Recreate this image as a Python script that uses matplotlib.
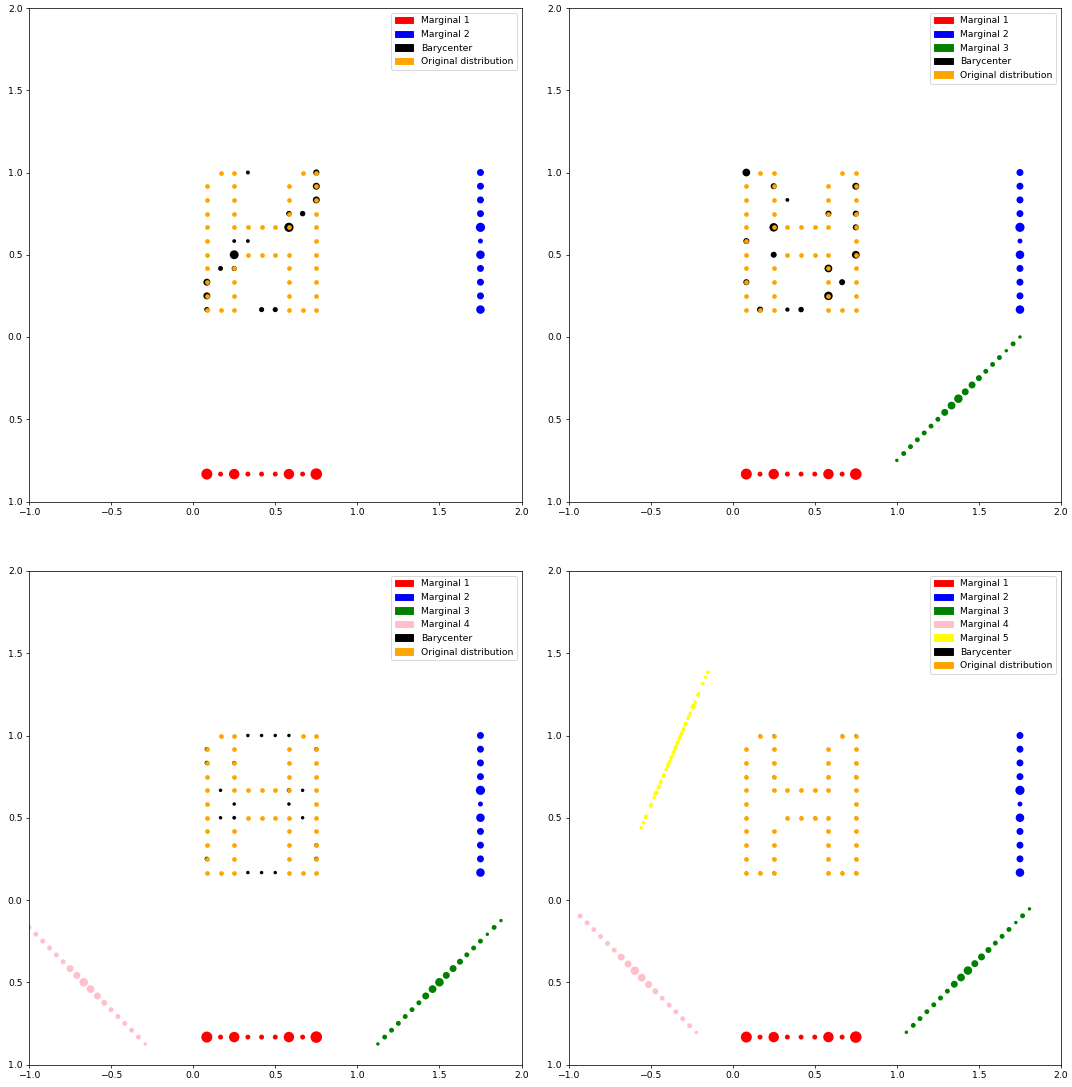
import matplotlib
matplotlib.use("Agg")
import matplotlib.pyplot as plt
import matplotlib.patches as mpatches
from matplotlib.ticker import FuncFormatter

# ---------------- data ----------------
# original distribution (orange grid points)
orig_x = [0.1667, 0.25, 0.6667, 0.75,
          0.0833, 0.25, 0.5833, 0.75,
          0.0833, 0.25, 0.5833, 0.75,
          0.0833, 0.25, 0.5833, 0.75,
          0.0833, 0.25, 0.3333, 0.4167, 0.5, 0.5833, 0.75,
          0.0833, 0.75,
          0.0833, 0.3333, 0.4167, 0.5, 0.5833, 0.75,
          0.0833, 0.25, 0.5833, 0.75,
          0.0833, 0.25, 0.5833, 0.75,
          0.0833, 0.25, 0.5833, 0.75,
          0.0833, 0.1667, 0.25, 0.5833, 0.6667, 0.75]
orig_y = [1.0] * 4 + [0.9167] * 4 + [0.8333] * 4 + [0.75] * 4 + [0.6667] * 7 \
    + [0.5833] * 2 + [0.5] * 6 + [0.4167] * 4 + [0.3333] * 4 + [0.25] * 4 + [0.1667] * 6

# marginal 1 (x projection)
m1_x = [0.0833, 0.1667, 0.25, 0.3333, 0.4167, 0.5, 0.5833, 0.6667, 0.75]
m1_y = [-0.8333] * 9
m1_w = [10, 2, 9, 2, 2, 2, 9, 2, 11]

# marginal 2 (y projection)
m2_x = [1.75] * 11
m2_y = [1.0, 0.9167, 0.8333, 0.75, 0.6667, 0.5833, 0.5, 0.4167, 0.3333, 0.25, 0.1667]
m2_w = [4, 4, 4, 4, 7, 2, 6, 4, 4, 4, 6]

# marginal 3 (diagonal projection)
m3_w = [1, 2, 2, 2, 2, 2, 2, 4, 5, 6, 4, 4, 3, 2, 2, 2, 1, 2, 1]
m3_x_tr = [1.0, 1.0417, 1.0833, 1.125, 1.1667, 1.2083, 1.25, 1.2917, 1.3333, 1.375,
           1.4167, 1.4583, 1.5, 1.5417, 1.5833, 1.625, 1.6667, 1.7083, 1.75]
m3_y_tr = [-0.75, -0.7083, -0.6667, -0.625, -0.5833, -0.5417, -0.5, -0.4583, -0.4167, -0.375,
           -0.3333, -0.2917, -0.25, -0.2083, -0.1667, -0.125, -0.0833, -0.0417, 0.0]
m3_x_bl = [1.125, 1.1667, 1.2083, 1.25, 1.2917, 1.3333, 1.375, 1.4167, 1.4583, 1.5,
           1.5417, 1.5833, 1.625, 1.6667, 1.7083, 1.75, 1.7917, 1.8333, 1.875]
m3_y_bl = [-0.875, -0.8333, -0.7917, -0.75, -0.7083, -0.6667, -0.625, -0.5833, -0.5417, -0.5,
           -0.4583, -0.4167, -0.375, -0.3333, -0.2917, -0.25, -0.2083, -0.1667, -0.125]
m3_x_br = [1.058, 1.100, 1.141, 1.183, 1.225, 1.266, 1.308, 1.350, 1.391, 1.433,
           1.475, 1.516, 1.558, 1.600, 1.641, 1.683, 1.725, 1.766, 1.808]
m3_y_br = [-0.804, -0.762, -0.721, -0.679, -0.637, -0.596, -0.554, -0.512, -0.471, -0.429,
           -0.387, -0.346, -0.304, -0.262, -0.221, -0.179, -0.137, -0.096, -0.054]

# marginal 4 (anti-diagonal projection)
m4_w = [2, 2, 2, 2, 2, 2, 4, 4, 6, 5, 4, 3, 2, 2, 2, 2, 2, 1]
m4_x_bl = [-1.0, -0.9583, -0.9167, -0.875, -0.8333, -0.7917, -0.75, -0.7083, -0.6667,
           -0.625, -0.5833, -0.5417, -0.5, -0.4583, -0.4167, -0.375, -0.3333, -0.2917]
m4_y_bl = [-0.1667, -0.2083, -0.25, -0.2917, -0.3333, -0.375, -0.4167, -0.4583, -0.5,
           -0.5417, -0.5833, -0.625, -0.6667, -0.7083, -0.75, -0.7917, -0.8333, -0.875]
m4_x_br = [-0.929, -0.887, -0.846, -0.804, -0.762, -0.721, -0.679, -0.637, -0.596,
           -0.554, -0.512, -0.471, -0.429, -0.387, -0.346, -0.304, -0.262, -0.221]
m4_y_br = [-0.097, -0.139, -0.180, -0.222, -0.264, -0.305, -0.347, -0.389, -0.430,
           -0.472, -0.514, -0.555, -0.597, -0.639, -0.680, -0.722, -0.764, -0.805]

# marginal 5 (steep projection)
m5_x = [-0.557, -0.544, -0.531, -0.527, -0.501, -0.496, -0.479, -0.471, -0.466, -0.453,
        -0.449, -0.440, -0.436, -0.423, -0.419, -0.406, -0.397, -0.393, -0.389, -0.384,
        -0.376, -0.371, -0.363, -0.358, -0.350, -0.346, -0.337, -0.333, -0.324, -0.320,
        -0.315, -0.311, -0.302, -0.298, -0.289, -0.285, -0.272, -0.268, -0.259, -0.242,
        -0.238, -0.229, -0.212, -0.208, -0.182, -0.164, -0.152]
m5_y = [0.440, 0.470, 0.500, 0.510, 0.571, 0.581, 0.621, 0.641, 0.651, 0.681,
        0.691, 0.712, 0.722, 0.752, 0.762, 0.792, 0.812, 0.822, 0.832, 0.842,
        0.862, 0.872, 0.893, 0.903, 0.923, 0.933, 0.953, 0.963, 0.983, 0.993,
        1.003, 1.013, 1.033, 1.043, 1.064, 1.074, 1.104, 1.114, 1.134, 1.174,
        1.184, 1.204, 1.245, 1.255, 1.315, 1.355, 1.385]
m5_w = [1, 1, 1, 1, 1, 1, 1, 1, 2, 1,
        1, 1, 1, 1, 1, 1, 1, 1, 1, 1,
        1, 1, 1, 1, 1, 1, 1, 1, 1, 1,
        1, 1, 1, 1, 1, 1, 1, 1, 1, 2,
        1, 1, 1, 1, 1, 1, 1]

# barycenters
b1_x = [0.3333, 0.75, 0.75, 0.75, 0.5833, 0.6667, 0.5833, 0.25, 0.3333, 0.25,
        0.1667, 0.25, 0.0833, 0.0833, 0.0833, 0.4167, 0.5]
b1_y = [1.0, 1.0, 0.9167, 0.8333, 0.75, 0.75, 0.6667, 0.5833, 0.5833, 0.5,
        0.4167, 0.4167, 0.3333, 0.25, 0.1667, 0.1667, 0.1667]
b1_w = [1.3, 3.2, 4, 4, 2.5, 2.5, 7, 1.2, 1.2, 6.5, 2, 2.2, 4, 4, 2.2, 2.2, 2.2]

b2_x = [0.0833, 0.25, 0.75, 0.3333, 0.5833, 0.75, 0.25, 0.75, 0.0833, 0.25,
        0.75, 0.5833, 0.0833, 0.6667, 0.5833, 0.1667, 0.3333, 0.4167]
b2_y = [1.0, 0.9167, 0.9167, 0.8333, 0.75, 0.75, 0.6667, 0.6667, 0.5833, 0.5,
        0.5, 0.4167, 0.3333, 0.3333, 0.25, 0.1667, 0.1667, 0.1667]
b2_w = [5, 3, 4, 1.2, 3, 3, 6, 3, 3, 3, 5, 5, 3, 3, 6, 3, 1.5, 2.5]

b3_x = [0.3333, 0.4167, 0.5, 0.5833, 0.0833, 0.75, 0.0833, 0.25, 0.1667, 0.5833,
        0.6667, 0.25, 0.5833, 0.1667, 0.25, 0.6667, 0.75, 0.0833, 0.75, 0.3333,
        0.4167, 0.5]
b3_y = [1.0, 1.0, 1.0, 1.0, 0.9167, 0.9167, 0.8333, 0.8333, 0.6667, 0.6667,
        0.6667, 0.5833, 0.5833, 0.5, 0.5, 0.5, 0.3333, 0.25, 0.25, 0.1667,
        0.1667, 0.1667]
b3_w = [1, 1, 1, 1, 1.6, 1.6, 1.6, 1.4, 1, 1.6,
        1, 1, 1, 1, 1.2, 1, 1.4, 1.6, 1.6, 1,
        1, 1]

# barycenter of panel 4 sits under the original points (hidden)
b4_x = orig_x
b4_y = orig_y
b4_w = [0.5] * len(orig_x)

# ---------------- styling ----------------
DPI = 67
K = 14.0         # marker area (pt^2) per unit weight
ORIG_S = 26

W, H = 1072.0, 1087.0
fig = plt.figure(figsize=(W / DPI, H / DPI), dpi=DPI)
aw, ah = 492.5 / W, 493.5 / H
positions = [
    [29 / W, (H - 501.5) / H, aw, ah],
    [568.5 / W, (H - 501.5) / H, aw, ah],
    [29 / W, (H - 1064.5) / H, aw, ah],
    [568.5 / W, (H - 1064.5) / H, aw, ah],
]

panels = [
    dict(marg=[(m1_x, m1_y, m1_w, 'red'), (m2_x, m2_y, m2_w, 'blue')],
         bary=(b1_x, b1_y, b1_w)),
    dict(marg=[(m1_x, m1_y, m1_w, 'red'), (m2_x, m2_y, m2_w, 'blue'),
               (m3_x_tr, m3_y_tr, m3_w, 'green')],
         bary=(b2_x, b2_y, b2_w)),
    dict(marg=[(m1_x, m1_y, m1_w, 'red'), (m2_x, m2_y, m2_w, 'blue'),
               (m3_x_bl, m3_y_bl, m3_w, 'green'), (m4_x_bl, m4_y_bl, m4_w, 'pink')],
         bary=(b3_x, b3_y, b3_w)),
    dict(marg=[(m1_x, m1_y, m1_w, 'red'), (m2_x, m2_y, m2_w, 'blue'),
               (m3_x_br, m3_y_br, m3_w, 'green'), (m4_x_br, m4_y_br, m4_w, 'pink'),
               (m5_x, m5_y, m5_w, 'yellow')],
         bary=(b4_x, b4_y, b4_w)),
]

fmt = FuncFormatter(lambda v, p: f"{abs(v):.1f}")

for pos, pan in zip(positions, panels):
    ax = fig.add_axes(pos)
    handles = []
    for i, (mx, my, mw, col) in enumerate(pan['marg']):
        ax.scatter(mx, my, s=[K * w for w in mw], c=col, linewidths=0)
        handles.append(mpatches.Patch(color=col, label=f"Marginal {i + 1}"))
    bx, by, bw = pan['bary']
    ax.scatter(bx, by, s=[K * w for w in bw], c='black', linewidths=0)
    ax.scatter(orig_x, orig_y, s=ORIG_S, c='orange', linewidths=0)
    handles.append(mpatches.Patch(color='black', label='Barycenter'))
    handles.append(mpatches.Patch(color='orange', label='Original distribution'))
    ax.set_xlim(-1, 2)
    ax.set_ylim(-1, 2)
    ax.yaxis.set_major_formatter(fmt)
    ax.legend(handles=handles, loc='upper right')

fig.savefig("out.png", dpi=DPI)
